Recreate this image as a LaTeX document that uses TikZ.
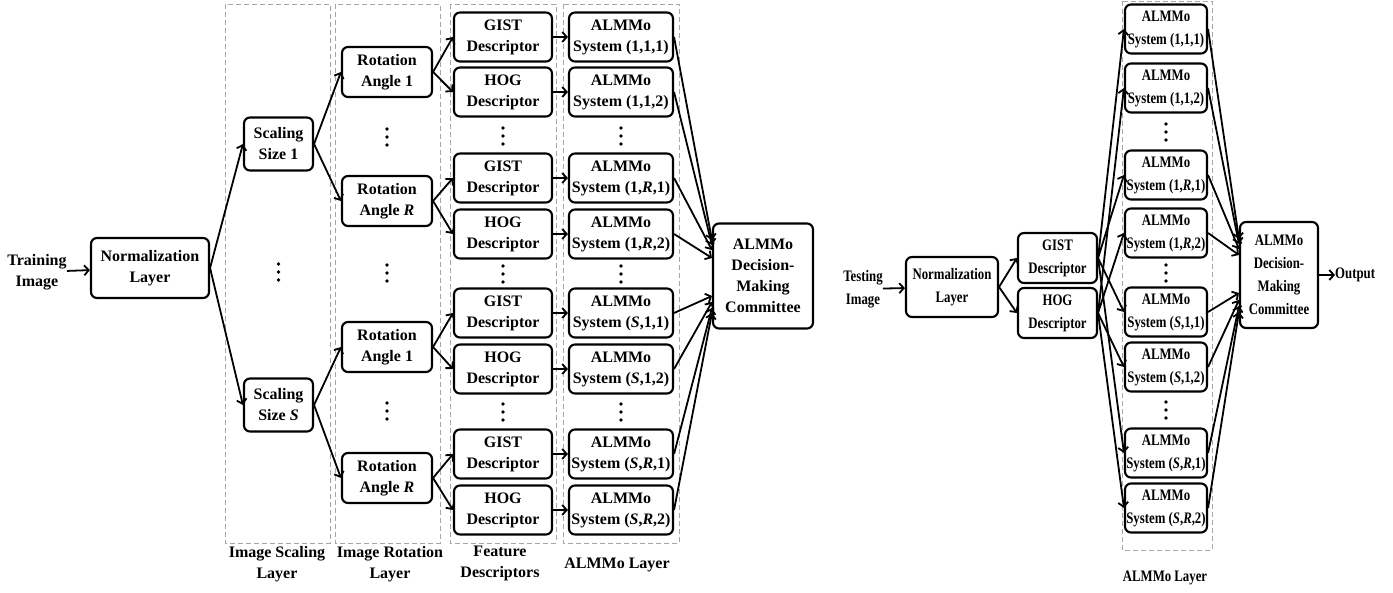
\documentclass[tikz,border=0pt]{standalone}
\usepackage{fontspec}
\setmainfont{Liberation Serif}
\newfontfamily\narrowserif[FakeStretch=0.8]{Liberation Serif}
\usetikzlibrary{arrows.meta}

\tikzset{
  procBox/.style={draw, line width=2.1pt, rounded corners=6pt, align=center, inner sep=0pt,
    font=\bfseries\fontsize{16}{21}\selectfont},
  narrowBox/.style={procBox, font=\narrowserif\bfseries\fontsize{16}{23}\selectfont},
  plainText/.style={align=center, inner sep=0pt, font=\bfseries\fontsize{16}{21}\selectfont},
  narrowText/.style={plainText, font=\narrowserif\bfseries\fontsize{16}{23}\selectfont},
  dotsNode/.style={minimum width=4.4pt, minimum height=22pt, inner sep=0pt,
    path picture={\fill (path picture bounding box.center) circle (1.9pt) ++(0,8pt) circle (1.9pt) ++(0,-16pt) circle (1.9pt);}},
  layerFrame/.style={draw=gray!70, line width=0.9pt, dash pattern=on 5pt off 3pt},
  flowArrow/.style={line width=1.8pt, -{Straight Barb[length=4.5pt,width=10pt]}}
}

\begin{document}
\begin{tikzpicture}[x=1pt, y=-1pt]
\useasboundingbox (0,0) rectangle (1393,593);

\draw[layerFrame] (225,4) rectangle (330,543);
\draw[layerFrame] (335,4) rectangle (440,543);
\draw[layerFrame] (450,4) rectangle (556,543);
\draw[layerFrame] (563,4) rectangle (679,543);
\draw[layerFrame] (1122,1) rectangle (1212,550);

\node[plainText] (trainImg) at (37,272) {Training\\Image};
\node[procBox, minimum width=118pt, minimum height=60pt] (normLayer) at (150,268) {Normalization\\Layer};

\node[procBox, minimum width=69pt, minimum height=53pt] (scaleOne) at (278.5,144) {Scaling\\Size 1};
\node[dotsNode] (scaleDots) at (278.5,272) {};
\node[procBox, minimum width=69pt, minimum height=53pt] (scaleS) at (278.5,405) {Scaling\\Size \textit{S}};

\node[procBox, minimum width=90pt, minimum height=50pt] (rotOneA) at (387,72) {Rotation\\Angle 1};
\node[dotsNode] (rotDotsA) at (387,137) {};
\node[procBox, minimum width=90pt, minimum height=50pt] (rotOneR) at (387,201) {Rotation\\Angle \textit{R}};
\node[dotsNode] (rotDotsB) at (387,273) {};
\node[procBox, minimum width=90pt, minimum height=50pt] (rotSA) at (387,347) {Rotation\\Angle 1};
\node[dotsNode] (rotDotsC) at (387,411) {};
\node[procBox, minimum width=90pt, minimum height=50pt] (rotSR) at (387,478) {Rotation\\Angle \textit{R}};

\node[procBox, minimum width=98pt, minimum height=49pt] (gistA) at (503,37) {GIST\\Descriptor};
\node[procBox, minimum width=98pt, minimum height=49pt] (hogA) at (503,92) {HOG\\Descriptor};
\node[dotsNode] (descDotsA) at (503,136) {};
\node[procBox, minimum width=98pt, minimum height=49pt] (gistB) at (503,178) {GIST\\Descriptor};
\node[procBox, minimum width=98pt, minimum height=49pt] (hogB) at (503,234) {HOG\\Descriptor};
\node[dotsNode] (descDotsB) at (503,274) {};
\node[procBox, minimum width=98pt, minimum height=49pt] (gistC) at (503,313) {GIST\\Descriptor};
\node[procBox, minimum width=98pt, minimum height=49pt] (hogC) at (503,369) {HOG\\Descriptor};
\node[dotsNode] (descDotsC) at (503,412) {};
\node[procBox, minimum width=98pt, minimum height=49pt] (gistD) at (503,454) {GIST\\Descriptor};
\node[procBox, minimum width=98pt, minimum height=49pt] (hogD) at (503,510) {HOG\\Descriptor};

\node[procBox, minimum width=104pt, minimum height=49pt] (sysA) at (621,37) {ALMMo\\System (1,1,1)};
\node[procBox, minimum width=104pt, minimum height=49pt] (sysB) at (621,92) {ALMMo\\System (1,1,2)};
\node[dotsNode] (sysDotsA) at (621,136) {};
\node[procBox, minimum width=104pt, minimum height=49pt] (sysC) at (621,178) {ALMMo\\System (1,\textit{R},1)};
\node[procBox, minimum width=104pt, minimum height=49pt] (sysD) at (621,234) {ALMMo\\System (1,\textit{R},2)};
\node[dotsNode] (sysDotsB) at (621,274) {};
\node[procBox, minimum width=104pt, minimum height=49pt] (sysE) at (621,313) {ALMMo\\System (\textit{S},1,1)};
\node[procBox, minimum width=104pt, minimum height=49pt] (sysF) at (621,369) {ALMMo\\System (\textit{S},1,2)};
\node[dotsNode] (sysDotsC) at (621,412) {};
\node[procBox, minimum width=104pt, minimum height=49pt] (sysG) at (621,454) {ALMMo\\System (\textit{S},\textit{R},1)};
\node[procBox, minimum width=104pt, minimum height=49pt] (sysH) at (621,510) {ALMMo\\System (\textit{S},\textit{R},2)};

\node[procBox, minimum width=100pt, minimum height=105pt] (committee) at (763,276) {ALMMo\\Decision-\\Making\\Committee};

\node[plainText] (scaleLabel) at (277,564) {Image Scaling\\Layer};
\node[plainText] (rotLabel) at (390,564) {Image Rotation\\Layer};
\node[plainText] (descLabel) at (500,563) {Feature\\Descriptors};
\node[plainText] (sysLabel) at (617,565) {ALMMo Layer};

\draw[flowArrow] (trainImg) -- (normLayer);
\draw[flowArrow] (normLayer.east) -- (scaleOne.west);
\draw[flowArrow] (normLayer.east) -- (scaleS.west);
\draw[flowArrow] (scaleOne.east) -- (rotOneA.west);
\draw[flowArrow] (scaleOne.east) -- (rotOneR.west);
\draw[flowArrow] (scaleS.east) -- (rotSA.west);
\draw[flowArrow] (scaleS.east) -- (rotSR.west);
\draw[flowArrow] (rotOneA.east) -- (gistA.west);
\draw[flowArrow] (rotOneA.east) -- (hogA.west);
\draw[flowArrow] (rotOneR.east) -- (gistB.west);
\draw[flowArrow] (rotOneR.east) -- (hogB.west);
\draw[flowArrow] (rotSA.east) -- (gistC.west);
\draw[flowArrow] (rotSA.east) -- (hogC.west);
\draw[flowArrow] (rotSR.east) -- (gistD.west);
\draw[flowArrow] (rotSR.east) -- (hogD.west);
\draw[flowArrow] (gistA) -- (sysA);
\draw[flowArrow] (hogA) -- (sysB);
\draw[flowArrow] (gistB) -- (sysC);
\draw[flowArrow] (hogB) -- (sysD);
\draw[flowArrow] (gistC) -- (sysE);
\draw[flowArrow] (hogC) -- (sysF);
\draw[flowArrow] (gistD) -- (sysG);
\draw[flowArrow] (hogD) -- (sysH);
\draw[flowArrow] (sysA.east) -- ([yshift=36pt]committee.west);
\draw[flowArrow] (sysB.east) -- ([yshift=31pt]committee.west);
\draw[flowArrow] (sysC.east) -- ([yshift=26pt]committee.west);
\draw[flowArrow] (sysD.east) -- ([yshift=18pt]committee.west);
\draw[flowArrow] (sysE.east) -- ([yshift=-20pt]committee.west);
\draw[flowArrow] (sysF.east) -- ([yshift=-26pt]committee.west);
\draw[flowArrow] (sysG.east) -- ([yshift=-32pt]committee.west);
\draw[flowArrow] (sysH.east) -- ([yshift=-37pt]committee.west);

\node[narrowText] (testImg) at (863,289) {Testing\\Image};
\node[narrowBox, minimum width=92pt, minimum height=60pt] (normLayerR) at (952,287) {Normalization\\Layer};
\node[narrowBox, minimum width=79pt, minimum height=50pt] (gistR) at (1057.5,258) {GIST\\Descriptor};
\node[narrowBox, minimum width=79pt, minimum height=50pt] (hogR) at (1057.5,313) {HOG\\Descriptor};

\node[narrowBox, minimum width=82pt, minimum height=49pt] (sysRA) at (1166,29) {ALMMo\\System (1,1,1)};
\node[narrowBox, minimum width=82pt, minimum height=49pt] (sysRB) at (1166,88) {ALMMo\\System (1,1,2)};
\node[dotsNode] (sysRDotsA) at (1166,132) {};
\node[narrowBox, minimum width=82pt, minimum height=49pt] (sysRC) at (1166,175) {ALMMo\\System (1,\textit{R},1)};
\node[narrowBox, minimum width=82pt, minimum height=49pt] (sysRD) at (1166,233) {ALMMo\\System (1,\textit{R},2)};
\node[dotsNode] (sysRDotsB) at (1166,273) {};
\node[narrowBox, minimum width=82pt, minimum height=49pt] (sysRE) at (1166,312) {ALMMo\\System (\textit{S},1,1)};
\node[narrowBox, minimum width=82pt, minimum height=49pt] (sysRF) at (1166,367) {ALMMo\\System (\textit{S},1,2)};
\node[dotsNode] (sysRDotsC) at (1166,410) {};
\node[narrowBox, minimum width=82pt, minimum height=49pt] (sysRG) at (1166,453) {ALMMo\\System (\textit{S},\textit{R},1)};
\node[narrowBox, minimum width=82pt, minimum height=49pt] (sysRH) at (1166,508) {ALMMo\\System (\textit{S},\textit{R},2)};

\node[narrowBox, minimum width=78pt, minimum height=106pt] (committeeR) at (1279,275) {ALMMo\\Decision-\\Making\\Committee};
\node[narrowText, anchor=west] (outTxt) at (1335,275) {Output};
\node[narrowText] (sysLabelR) at (1165,578) {ALMMo Layer};

\draw[flowArrow] (testImg) -- (normLayerR);
\draw[flowArrow] (normLayerR.east) -- (gistR.west);
\draw[flowArrow] (normLayerR.east) -- (hogR.west);
\draw[flowArrow] (gistR.east) -- (sysRA.west);
\draw[flowArrow] (gistR.east) -- (sysRC.west);
\draw[flowArrow] (gistR.east) -- (sysRE.west);
\draw[flowArrow] (gistR.east) -- (sysRG.west);
\draw[flowArrow] (hogR.east) -- (sysRB.west);
\draw[flowArrow] (hogR.east) -- (sysRD.west);
\draw[flowArrow] (hogR.east) -- (sysRF.west);
\draw[flowArrow] (hogR.east) -- (sysRH.west);
\draw[flowArrow] (sysRA.east) -- ([yshift=36pt]committeeR.west);
\draw[flowArrow] (sysRB.east) -- ([yshift=31pt]committeeR.west);
\draw[flowArrow] (sysRC.east) -- ([yshift=26pt]committeeR.west);
\draw[flowArrow] (sysRD.east) -- ([yshift=20pt]committeeR.west);
\draw[flowArrow] (sysRE.east) -- ([yshift=-18pt]committeeR.west);
\draw[flowArrow] (sysRF.east) -- ([yshift=-25pt]committeeR.west);
\draw[flowArrow] (sysRG.east) -- ([yshift=-31pt]committeeR.west);
\draw[flowArrow] (sysRH.east) -- ([yshift=-37pt]committeeR.west);
\draw[flowArrow] (committeeR) -- (outTxt);
\end{tikzpicture}
\end{document}
